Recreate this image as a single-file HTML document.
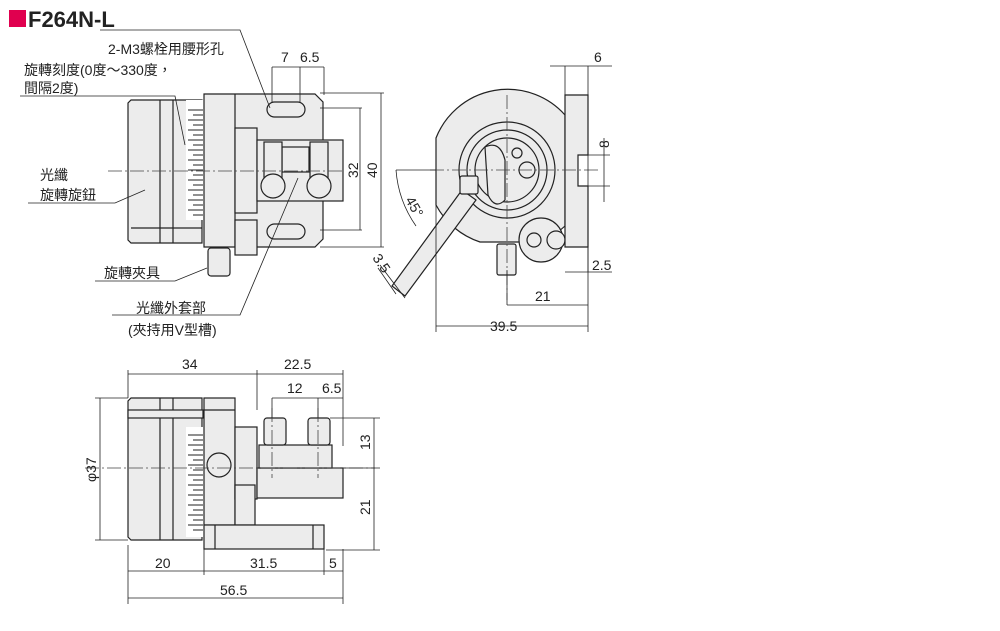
<!DOCTYPE html>
<html><head><meta charset="utf-8"><style>
body{margin:0;background:#fff;width:1000px;height:626px;overflow:hidden}
svg text{font-family:"Liberation Sans","Noto Sans CJK TC",sans-serif;fill:#222}
</style></head><body>
<svg width="1000" height="626" viewBox="0 0 1000 626" xmlns="http://www.w3.org/2000/svg">
<rect x="9" y="10" width="17" height="17" fill="#e0004f"/>
<text x="28" y="27" font-size="22" font-weight="bold">F264N-L</text>

<g fill="#ececec" stroke="#222" stroke-width="1.2">
<!-- TOP VIEW -->
<path d="M131 100 H202 V243 H131 L128 240 V103Z"/>
<line x1="160" y1="100" x2="160" y2="243"/><line x1="173" y1="100" x2="173" y2="243"/>
<line x1="131" y1="228" x2="202" y2="228"/>
<path d="M204 94 H315 L323 102 V239 L315 247 H204Z"/>
<line x1="235" y1="94" x2="235" y2="247"/>
<rect x="235" y="128" width="22" height="85"/>
<rect x="257" y="140" width="86" height="61"/>
<rect x="282" y="147" width="27" height="25"/>
<rect x="264" y="142" width="18" height="37"/><rect x="310" y="142" width="18" height="37"/>
<circle cx="273" cy="186" r="12"/><circle cx="319" cy="186" r="12"/>
<rect x="267" y="102" width="38" height="15" rx="7.5"/>
<rect x="267" y="224" width="38" height="15" rx="7.5"/>
<rect x="235" y="220" width="22" height="35"/>
<rect x="208" y="248" width="22" height="28" rx="3"/>
<rect x="186" y="100" width="17" height="120" fill="#fff" stroke="none"/>
<!-- SIDE VIEW -->
<path d="M436 138 A77 77 0 0 1 565 115 V226 A77 77 0 0 1 540 242 H480 A77 77 0 0 1 436 205Z"/>
<circle cx="507" cy="170" r="48" fill="none"/>
<circle cx="507" cy="170" r="40" fill="none"/>
<circle cx="507" cy="170" r="32" fill="none"/>
<path d="M485 147 Q500 140 505 160 V200 Q495 210 488 195Z"/>
<circle cx="517" cy="153" r="5"/><circle cx="527" cy="170" r="8"/>
<circle cx="541" cy="240" r="22"/><circle cx="534" cy="240" r="7"/><circle cx="556" cy="240" r="9"/>
<path d="M565 95 H588 V155 H578 V186 H588 V247 H565Z"/>
<path d="M462 190 L476 200 L405 296 L392 286Z"/>
<rect x="460" y="176" width="18" height="18" rx="2"/>
<rect x="497" y="244" width="19" height="31" rx="2"/>
<!-- FRONT VIEW -->
<path d="M131 398 H202 V540 H131 L128 537 V401Z"/>
<line x1="173" y1="398" x2="173" y2="540"/><line x1="160" y1="398" x2="160" y2="540"/>
<rect x="128" y="410" width="75" height="8"/>
<rect x="204" y="398" width="31" height="127"/>
<line x1="204" y1="410" x2="235" y2="410"/>
<rect x="235" y="427" width="22" height="72"/>
<rect x="235" y="485" width="20" height="40"/>
<rect x="257" y="468" width="86" height="30"/>
<rect x="259" y="445" width="73" height="23"/>
<rect x="264" y="418" width="22" height="27" rx="3"/><rect x="308" y="418" width="22" height="27" rx="3"/>
<rect x="204" y="525" width="120" height="24"/>
<line x1="215" y1="525" x2="215" y2="549"/><line x1="313" y1="525" x2="313" y2="549"/>
<circle cx="219" cy="465" r="12" fill="none"/>
<rect x="186" y="427" width="17" height="110" fill="#fff" stroke="none"/>
</g>

<!-- scales -->
<g stroke="#222" stroke-width="1">
<path d="M188 110H203M193 115H203M188 120H203M193 125H203M188 130H203M193 135H203M188 140H203M193 145H203M188 150H203M193 155H203M188 160H203M193 165H203M188 170H203M193 175H203M188 180H203M193 185H203M188 190H203M193 195H203M188 200H203M193 205H203M188 210H203M193 215H203"/>
<path d="M188 435H203M193 440H203M188 445H203M193 450H203M188 455H203M193 460H203M188 465H203M193 470H203M188 475H203M193 480H203M188 485H203M193 490H203M188 495H203M193 500H203M188 505H203M193 510H203M188 515H203M193 520H203M188 525H203M193 530H203"/>
</g>

<!-- center lines -->
<g stroke="#444" stroke-width="0.8" stroke-dasharray="14 3 2 3" fill="none">
<line x1="108" y1="171" x2="345" y2="171"/>
<line x1="430" y1="170" x2="600" y2="170"/><line x1="507" y1="95" x2="507" y2="300"/>
<line x1="85" y1="468" x2="375" y2="468"/>
<line x1="272" y1="408" x2="272" y2="478"/><line x1="318" y1="408" x2="318" y2="478"/>
</g>

<!-- dimension & leader lines -->
<g stroke="#222" stroke-width="0.8" fill="none">
<path d="M272 67V103M300 67V103M324 67V95M272 67H324"/>
<path d="M320 93H384M320 108H362M320 230H362M320 247H384M360 108V230M381 93V247"/>
<path d="M565 66V95M588 66V95M550 66H612"/>
<path d="M588 138V202M604 138V202M588 155H610M588 186H610"/>
<path d="M436 205V332M588 247V332M436 326H588M507 305H588M507 270V305"/>
<path d="M565 272H612M588 272V247"/>
<path d="M396 170H436M396 170 A112 112 0 0 0 416 226"/>
<path d="M380 265L405 298M378 268L396 294"/>
<path d="M128 374H343M128 370V398M257 370V410M343 370V446"/>
<path d="M272 398H343M272 398V418M318 398V418"/>
<path d="M330 418H380M340 468H380M326 550H380M374 418V550"/>
<path d="M95 398H128M95 540H128M100 398V540"/>
<path d="M128 545V604M204 549V575M324 549V575M343 549V604M128 571H343M128 598H343"/>
<path d="M20 96H175L185 145"/>
<path d="M100 30H240L270 108"/>
<path d="M28 203H115L145 190"/>
<path d="M95 281H175L207 268"/>
<path d="M112 315H240L298 178"/>
</g>

<g font-size="14">
<text x="281" y="62">7</text><text x="300" y="62">6.5</text>
<text x="594" y="62">6</text>
<text x="108" y="54">2-M3螺栓用腰形孔</text>
<text x="24" y="75">旋轉刻度(0度～330度，</text>
<text x="24" y="93">間隔2度)</text>
<text x="40" y="180">光纖</text><text x="40" y="200">旋轉旋鈕</text>
<text x="104" y="278">旋轉夾具</text>
<text x="136" y="313">光纖外套部</text>
<text x="128" y="335">(夾持用V型槽)</text>
<text x="490" y="331">39.5</text>
<text x="535" y="301">21</text>
<text x="592" y="270">2.5</text>
<text x="182" y="369">34</text><text x="284" y="369">22.5</text>
<text x="287" y="393">12</text><text x="322" y="393">6.5</text>
<text x="155" y="568">20</text><text x="250" y="568">31.5</text><text x="329" y="568">5</text>
<text x="220" y="595">56.5</text>
<text transform="translate(358 178) rotate(-90)">32</text>
<text transform="translate(377 178) rotate(-90)">40</text>
<text transform="translate(609 148) rotate(-90)">8</text>
<text transform="translate(370 450) rotate(-90)">13</text>
<text transform="translate(370 515) rotate(-90)">21</text>
<text transform="translate(96 482) rotate(-90)">φ37</text>
<text transform="translate(405 200) rotate(60)">45°</text>
<text transform="translate(372 258) rotate(55)">3.5</text>
</g>
</svg>
</body></html>
